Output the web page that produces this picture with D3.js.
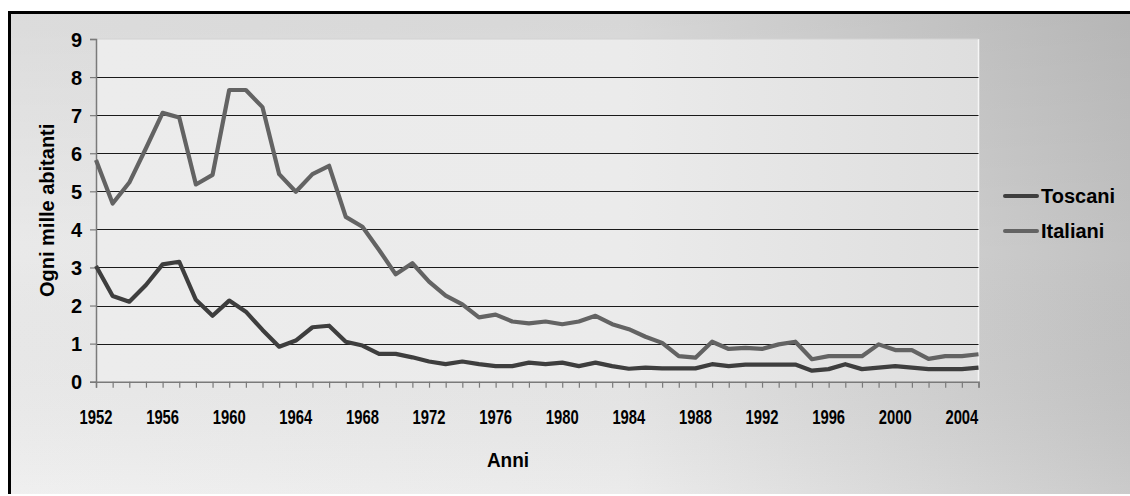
<!DOCTYPE html>
<html>
<head>
<meta charset="utf-8">
<script src="https://cdn.jsdelivr.net/npm/d3@7"></script>
<style>
  html, body { margin: 0; padding: 0; background: #ffffff; }
  svg { display: block; }
  text { font-family: "Liberation Sans", Arial, sans-serif; font-weight: bold; fill: #000; }
</style>
</head>
<body>
<svg id="chart" width="1130" height="496"></svg>
<script>
// Emigration rate per thousand inhabitants, 1952–2005
const years = d3.range(1952, 2006);
const toscani = [
  3.04, 2.25, 2.10, 2.54, 3.08, 3.15, 2.15, 1.73, 2.13, 1.84,
  1.36, 0.92, 1.08, 1.43, 1.47, 1.05, 0.95, 0.73, 0.73, 0.64,
  0.53, 0.46, 0.53, 0.46, 0.41, 0.41, 0.50, 0.46, 0.50, 0.41,
  0.50, 0.41, 0.34, 0.37, 0.35, 0.35, 0.35, 0.46, 0.41, 0.45,
  0.45, 0.45, 0.45, 0.29, 0.33, 0.46, 0.33, 0.37, 0.41, 0.37,
  0.33, 0.33, 0.33, 0.37
];
const italiani = [
  5.82, 4.68, 5.23, 6.13, 7.06, 6.94, 5.18, 5.43, 7.66, 7.66,
  7.21, 5.45, 4.99, 5.45, 5.67, 4.33, 4.07, 3.46, 2.82, 3.11,
  2.63, 2.26, 2.03, 1.69, 1.76, 1.58, 1.53, 1.58, 1.51, 1.58,
  1.73, 1.51, 1.38, 1.18, 1.02, 0.67, 0.63, 1.05, 0.86, 0.89,
  0.86, 0.98, 1.05, 0.59, 0.67, 0.67, 0.67, 0.98, 0.83, 0.83,
  0.60, 0.67, 0.67, 0.72
];
const seriesNames = ["Toscani", "Italiani"];
const seriesColors = ["#3e3e3e", "#636363"];
const yTicks = d3.range(0, 10);
const xLabelYears = d3.range(1952, 2005, 4);
const yTitle = "Ogni mille abitanti";
const xTitle = "Anni";

const svg = d3.select("#chart");
const defs = svg.append("defs");

// panel gradients
const gH = defs.append("linearGradient").attr("id", "panelH")
  .attr("x1", "0").attr("x2", "1").attr("y1", "0").attr("y2", "0");
gH.append("stop").attr("offset", "0").attr("stop-color", "#eeeeee");
gH.append("stop").attr("offset", "0.55").attr("stop-color", "#e9e9e9");
gH.append("stop").attr("offset", "1").attr("stop-color", "#c5c5c5");

const gV = defs.append("linearGradient").attr("id", "panelV")
  .attr("x1", "0").attr("x2", "0").attr("y1", "0").attr("y2", "1");
gV.append("stop").attr("offset", "0").attr("stop-color", "#000").attr("stop-opacity", 0.08);
gV.append("stop").attr("offset", "0.5").attr("stop-color", "#000").attr("stop-opacity", 0.02);
gV.append("stop").attr("offset", "1").attr("stop-color", "#fff").attr("stop-opacity", 0.1);

const gP = defs.append("linearGradient").attr("id", "plotH")
  .attr("x1", "0").attr("x2", "1").attr("y1", "0").attr("y2", "0");
gP.append("stop").attr("offset", "0").attr("stop-color", "#ececec");
gP.append("stop").attr("offset", "0.6").attr("stop-color", "#ebebeb");
gP.append("stop").attr("offset", "1").attr("stop-color", "#dedede");

// outer panel
svg.append("rect").attr("x", 9).attr("y", 12).attr("width", 1121).attr("height", 482)
  .attr("fill", "url(#panelH)");
svg.append("rect").attr("x", 9).attr("y", 12).attr("width", 1121).attr("height", 482)
  .attr("fill", "url(#panelV)");
svg.append("path").attr("d", "M9.5,494 V12.5 H1130")
  .attr("fill", "none").attr("stroke", "#000").attr("stroke-width", 3);

// plot geometry
const plotL = 96, plotR = 978.5, plotT = 39, plotB = 381.7;
const x = d3.scaleLinear().domain([1952, 2005]).range([plotL, plotR]);
const y = d3.scaleLinear().domain([0, 9]).range([plotB, plotT]);

svg.append("rect").attr("x", plotL).attr("y", plotT)
  .attr("width", plotR - plotL).attr("height", plotB - plotT)
  .attr("fill", "url(#plotH)");
svg.append("line").attr("x1", plotR).attr("x2", plotR).attr("y1", plotT).attr("y2", plotB)
  .attr("stroke", "#f6f6f6").attr("stroke-width", 1.5);
svg.append("line").attr("x1", plotL).attr("x2", plotR).attr("y1", plotT).attr("y2", plotT)
  .attr("stroke", "#d2d2d2").attr("stroke-width", 1);

// horizontal gridlines
svg.append("g").selectAll("line").data(yTicks.filter(d => d > 0 && d < 9)).join("line")
  .attr("x1", plotL).attr("x2", plotR)
  .attr("y1", d => Math.round(y(d)) + 0.5).attr("y2", d => Math.round(y(d)) + 0.5)
  .attr("stroke", "#1a1a1a").attr("stroke-width", 1);

// y axis
const yAxis = d3.axisLeft(y).tickValues(yTicks).tickSize(6).tickPadding(8).tickFormat(d3.format("d"));
const gy = svg.append("g").attr("transform", `translate(${plotL},0)`).call(yAxis);
gy.select(".domain").attr("stroke", "#7a7a7a").attr("stroke-width", 1.5);
gy.selectAll(".tick line").attr("stroke", "#7a7a7a").attr("stroke-width", 1.2);
gy.selectAll(".tick text")
  .attr("font-family", "'Liberation Sans', Arial, sans-serif")
  .attr("font-weight", "bold").attr("font-size", 20).attr("fill", "#000")
  .attr("dy", "0.36em");

// x axis: a tick per year, a label every four years
const xAxis = d3.axisBottom(x).tickValues(years).tickSize(6).tickFormat(() => "");
const gx = svg.append("g").attr("transform", `translate(0,${plotB})`).call(xAxis);
gx.select(".domain").attr("stroke", "#7a7a7a").attr("stroke-width", 1.5);
gx.selectAll(".tick line").attr("stroke", "#7a7a7a").attr("stroke-width", 1.2);

svg.append("g").selectAll("text").data(xLabelYears).join("text")
  .attr("transform", d => `translate(${x(d)},424) scale(0.74,1)`)
  .attr("text-anchor", "middle").attr("font-size", 20)
  .text(d => d);

// axis titles
svg.append("text")
  .attr("transform", `translate(54,${(plotT + plotB) / 2}) rotate(-90)`)
  .attr("text-anchor", "middle").attr("font-size", 20)
  .text(yTitle);
svg.append("text")
  .attr("transform", `translate(508,467) scale(0.95,1)`)
  .attr("text-anchor", "middle").attr("font-size", 20)
  .text(xTitle);

// series lines
const line = d3.line().x((d, i) => x(years[i])).y(d => y(d));
[toscani, italiani].forEach((vals, k) => {
  svg.append("path").datum(vals)
    .attr("d", line)
    .attr("fill", "none")
    .attr("stroke", seriesColors[k])
    .attr("stroke-width", 4.2)
    .attr("stroke-linejoin", "round");
});

// legend
const lg = svg.append("g").selectAll("g").data(seriesNames).join("g")
  .attr("transform", (d, i) => `translate(1005,${196 + i * 35})`);
lg.append("line").attr("x1", 0).attr("x2", 32).attr("y1", 0).attr("y2", 0)
  .attr("stroke", (d, i) => seriesColors[i]).attr("stroke-width", 4).attr("stroke-linecap", "round");
lg.append("text").attr("transform", "translate(36,7)")
  .attr("font-size", 20).text(d => d);
</script>
</body>
</html>
